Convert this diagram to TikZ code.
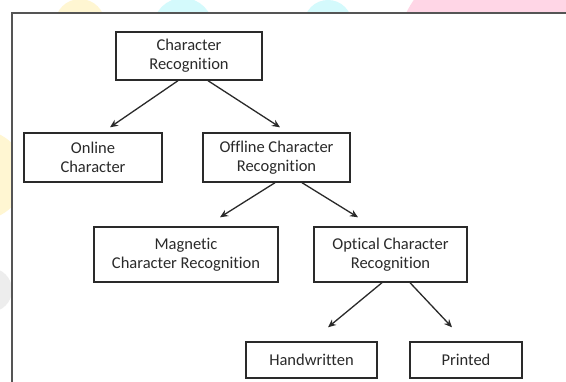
\documentclass[tikz,border=0pt]{standalone}
\usepackage{fontspec}
\setmainfont{Carlito}[Ligatures=NoCommon]
\usetikzlibrary{arrows.meta}
\definecolor{ink}{HTML}{2A2A2A}
\definecolor{bgyellow}{HTML}{FFF6D2}
\definecolor{bgcyan}{HTML}{D4FAFC}
\definecolor{bgpink}{HTML}{FFD6E6}
\tikzset{
  box/.style={draw=ink, line width=1.4pt, fill=white, align=center, text=ink,
    font=\fontsize{16.5}{19}\selectfont, inner sep=0pt},
  arr/.style={draw=ink, line width=1.3pt, -{Stealth[length=8pt,width=7pt]}},
}
\begin{document}
\begin{tikzpicture}[x=1pt,y=-1pt]
\useasboundingbox (0,0) rectangle (566,382);
\clip (0,0) rectangle (566,382);
\fill[white] (0,0) rectangle (566,382);
% faint background decorations
\fill[bgyellow] (80,24) circle (25);
\fill[bgcyan] (183,28) circle (30);
\fill[bgcyan] (328,24) circle (24);
\fill[bgpink] (500,60) circle (105);
\fill[bgyellow] (-20,175) circle (45);
\fill[black!7] (-10,290) circle (22);
% frame
\draw[draw=ink!80, line width=1.8pt, fill=white] (12,13) rectangle (600,420);
% nodes
\node[box, minimum width=146pt, minimum height=48pt] (cr) at (189,56) {Character\\Recognition};
\node[box, minimum width=138pt, minimum height=49pt] (on) at (93,157.5) {Online\\Character};
\node[box, minimum width=147pt, minimum height=49pt] (off) at (276.5,157.5) {Offline Character\\Recognition};
\node[box, minimum width=184pt, minimum height=55pt] (mag) at (186,254.5) {Magnetic\\Character Recognition};
\node[box, minimum width=153pt, minimum height=55pt] (opt) at (390.5,254.5) {Optical Character\\Recognition};
\node[box, minimum width=131pt, minimum height=36pt] (hw) at (311.5,360) {Handwritten};
\node[box, minimum width=112pt, minimum height=36pt] (pr) at (466,360) {Printed};
% connectors
\draw[arr] ([xshift=-11pt]cr.south) -- ([xshift=17pt,yshift=5pt]on.north);
\draw[arr] ([xshift=19pt]cr.south) -- ([xshift=3.5pt,yshift=5pt]off.north);
\draw[arr] ([xshift=-1.5pt]off.south) -- ([xshift=34pt,yshift=9pt]mag.north);
\draw[arr] ([xshift=25.5pt]off.south) -- ([xshift=-32.5pt,yshift=9pt]opt.north);
\draw[arr] ([xshift=-8.5pt]opt.south) -- ([xshift=16.5pt,yshift=14pt]hw.north);
\draw[arr] ([xshift=19.5pt]opt.south) -- ([xshift=-14pt,yshift=14pt]pr.north);
\end{tikzpicture}
\end{document}
